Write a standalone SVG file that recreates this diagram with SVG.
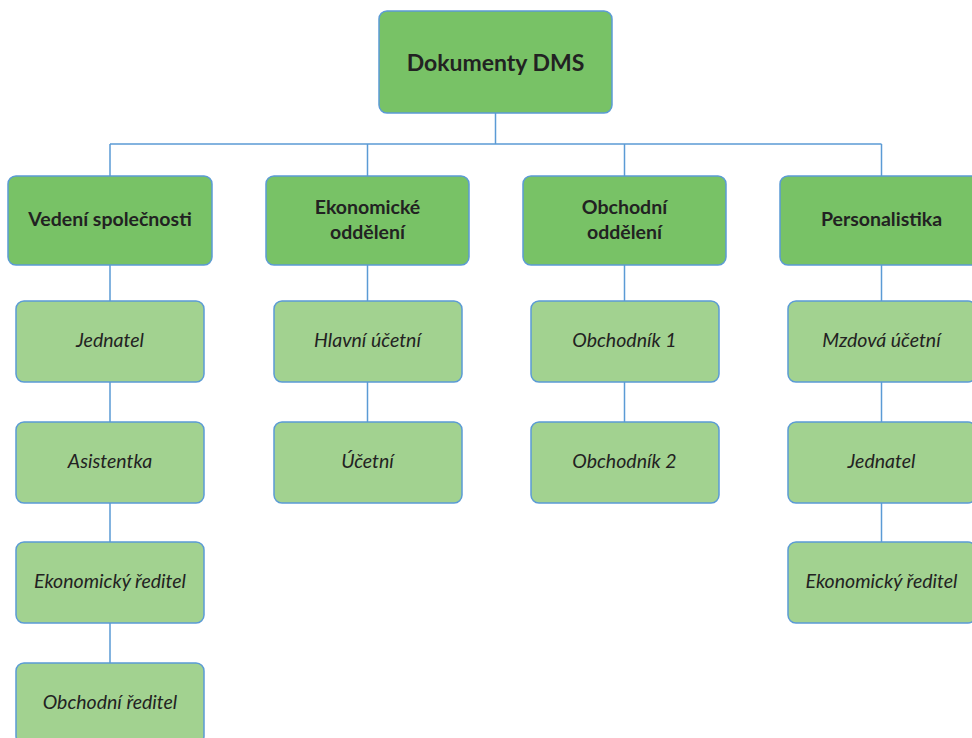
<svg xmlns="http://www.w3.org/2000/svg" width="972" height="738" viewBox="0 0 972 738">
<style>
.n1{fill:#78C266;stroke:#5B9BD5;stroke-width:1.5}
.n2{fill:#A2D290;stroke:#5B9BD5;stroke-width:1.5}
.b{font-family:Lato,"Open Sans",sans-serif;font-weight:bold;fill:#222;text-anchor:middle}
.i{font-family:Lato,"Open Sans",sans-serif;font-style:italic;font-size:19.5px;fill:#222;text-anchor:middle}
.c{stroke:#5B9BD5;stroke-width:1.5;fill:none}
</style>
<rect width="972" height="738" fill="#fff"/>
<g id="connectors">
<path class="c" d="M495.5 113V144M110 144H881.5M110 144V176M367.5 144V176M624.5 144V176M881.5 144V176"/>
<path class="c" d="M110 265V663M367.5 265V422M624.5 265V422M881.5 265V542"/>
</g>
<g id="root"><rect class="n1" x="379" y="11" width="233" height="102" rx="8"/><text class="b" x="495.5" y="71" font-size="23">Dokumenty DMS</text></g>
<g id="vedeni"><rect class="n1" x="8" y="176" width="204" height="89" rx="8"/><text class="b" x="110" y="226" font-size="19.5">Vedení společnosti</text></g>
<g id="ekonomicke"><rect class="n1" x="266" y="176" width="203" height="89" rx="8"/><text class="b" x="367.5" y="214" font-size="19.5">Ekonomické</text><text class="b" x="367.5" y="239" font-size="19.5">oddělení</text></g>
<g id="obchodni"><rect class="n1" x="523" y="176" width="203" height="89" rx="8"/><text class="b" x="624.5" y="214" font-size="19.5">Obchodní</text><text class="b" x="624.5" y="239" font-size="19.5">oddělení</text></g>
<g id="personalistika"><rect class="n1" x="780" y="176" width="204" height="89" rx="8"/><text class="b" x="881.5" y="226" font-size="19.5">Personalistika</text></g>
<g id="jednatel1"><rect class="n2" x="16" y="301" width="188" height="81" rx="8"/><text class="i" x="110" y="347">Jednatel</text></g>
<g id="asistentka"><rect class="n2" x="16" y="422" width="188" height="81" rx="8"/><text class="i" x="110" y="468">Asistentka</text></g>
<g id="ekred1"><rect class="n2" x="16" y="542" width="188" height="81" rx="8"/><text class="i" x="110" y="588">Ekonomický ředitel</text></g>
<g id="obred"><rect class="n2" x="16" y="663" width="188" height="81" rx="8"/><text class="i" x="110" y="709">Obchodní ředitel</text></g>
<g id="hlavni"><rect class="n2" x="274" y="301" width="188" height="81" rx="8"/><text class="i" x="367.5" y="347">Hlavní účetní</text></g>
<g id="ucetni"><rect class="n2" x="274" y="422" width="188" height="81" rx="8"/><text class="i" x="367.5" y="468">Účetní</text></g>
<g id="obch1"><rect class="n2" x="531" y="301" width="188" height="81" rx="8"/><text class="i" x="624.5" y="347">Obchodník 1</text></g>
<g id="obch2"><rect class="n2" x="531" y="422" width="188" height="81" rx="8"/><text class="i" x="624.5" y="468">Obchodník 2</text></g>
<g id="mzdova"><rect class="n2" x="788" y="301" width="188" height="81" rx="8"/><text class="i" x="881.5" y="347">Mzdová účetní</text></g>
<g id="jednatel2"><rect class="n2" x="788" y="422" width="188" height="81" rx="8"/><text class="i" x="881.5" y="468">Jednatel</text></g>
<g id="ekred2"><rect class="n2" x="788" y="542" width="188" height="81" rx="8"/><text class="i" x="881.5" y="588">Ekonomický ředitel</text></g>
</svg>
